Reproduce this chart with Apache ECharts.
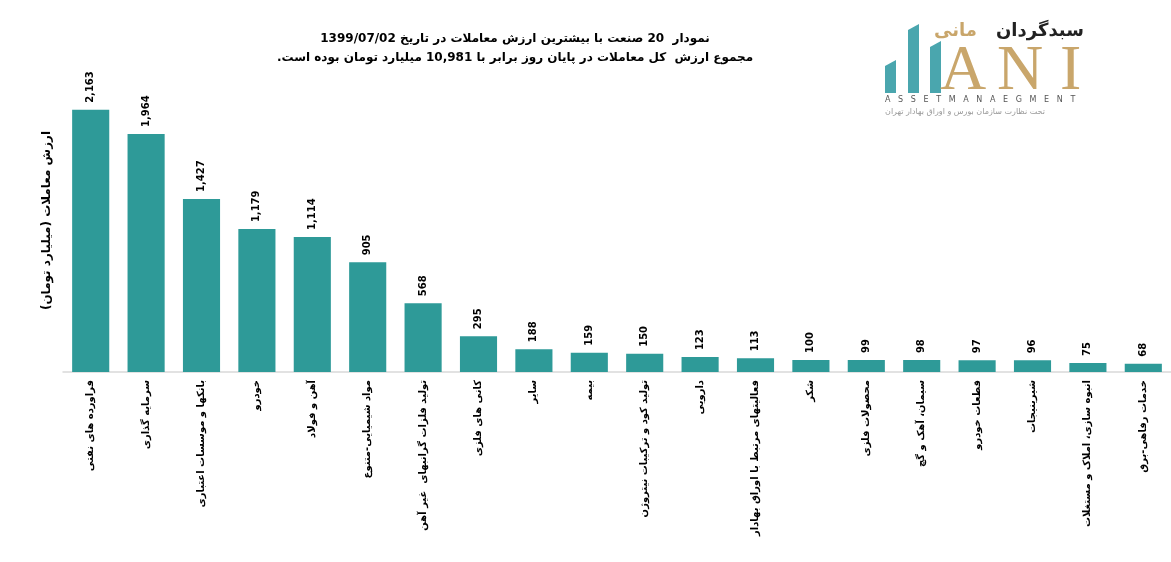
<!DOCTYPE html>
<html>
<head>
<meta charset="utf-8">
<script src="https://cdn.jsdelivr.net/npm/echarts@6/dist/echarts.min.js"></script>
<style>
  html, body { margin: 0; padding: 0; background: #fff; }
  #main { width: 1171px; height: 562px; }
</style>
</head>
<body>
<div id="main" dir="rtl"></div>
<script type="text/javascript">
// صنایع و ارزش معاملات (میلیارد تومان)
var categories = [
    'فراورده های نفتی', 'سرمایه گذاری', 'بانکها و موسسات اعتباری', 'خودرو',
    'آهن و فولاد', 'مواد شیمیایی-متنوع', 'تولید فلزات گرانبهای  غیر آهن', 'کانی های فلزی',
    'سایر', 'بیمه', 'تولید کود و ترکیبات نیتروژن', 'دارویی',
    'فعالیتهای مرتبط با اوراق بهادار', 'شکر', 'محصولات فلزی', 'سیمان، آهک و گچ',
    'قطعات خودرو', 'شیرینیجات', 'انبوه سازی، املاک و مستغلات', 'خدمات رفاهی-برق'
];
var values = [2163, 1964, 1427, 1179, 1114, 905, 568, 295, 188, 159,
              150, 123, 113, 100, 99, 98, 97, 96, 75, 68];
var titleLines = [
    'نمودار  20 صنعت با بیشترین ارزش معاملات در تاریخ 1399/07/02',
    'مجموع ارزش  کل معاملات در پایان روز برابر با 10,981 میلیارد تومان بوده است.'
];
var yName = 'ارزش معاملات (میلیارد تومان)';

var fontFam = 'DejaVu Sans, sans-serif';
var teal = '#2e9a98';
var gold = '#c9a66b';

var myChart = echarts.init(document.getElementById('main'));

var option = {
    animation: false,
    title: {
        text: titleLines.join('\n'),
        left: 510,
        top: 24,
        textAlign: 'center',
        textStyle: {
            fontFamily: fontFam,
            fontSize: 12,
            fontWeight: 'bold',
            lineHeight: 19,
            color: '#000'
        }
    },
    grid: {
        left: 63,
        right: 0,
        top: 69,
        bottom: 190
    },
    xAxis: {
        type: 'category',
        data: categories,
        axisLine: { lineStyle: { color: '#d9d9d9', width: 1.5 } },
        axisTick: { show: false },
        axisLabel: {
            interval: 0,
            rotate: 90,
            margin: 8,
            fontFamily: fontFam,
            fontSize: 10,
            fontWeight: 'bold',
            color: '#000'
        }
    },
    yAxis: {
        type: 'value',
        min: 0,
        max: 2500,
        name: yName,
        nameLocation: 'middle',
        nameRotate: 90,
        nameGap: 10,
        nameTextStyle: {
            fontFamily: fontFam,
            fontSize: 12,
            fontWeight: 'bold',
            color: '#000'
        },
        axisLine: { show: false },
        axisTick: { show: false },
        axisLabel: { show: false },
        splitLine: { show: false }
    },
    series: [{
        type: 'bar',
        data: values,
        barCategoryGap: '33%',
        itemStyle: { color: teal },
        label: {
            show: true,
            position: 'top',
            rotate: 90,
            align: 'left',
            verticalAlign: 'middle',
            distance: 7,
            fontFamily: fontFam,
            fontSize: 10,
            fontWeight: 'bold',
            color: '#000',
            formatter: function (p) {
                return p.value.toLocaleString('en-US');
            }
        }
    }],
    // لوگوی سبدگردان مانی
    graphic: [
        { type: 'polygon', shape: { points: [[885, 66], [896, 60], [896, 93], [885, 93]] }, style: { fill: '#4aa6ae' } },
        { type: 'polygon', shape: { points: [[908, 30], [919, 24], [919, 93], [908, 93]] }, style: { fill: '#4aa6ae' } },
        { type: 'polygon', shape: { points: [[930, 47], [941, 41], [941, 93], [930, 93]] }, style: { fill: '#4aa6ae' } },
        { type: 'text', left: 940, top: 40, style: { text: 'A', font: '64px Liberation Serif, serif', fill: gold } },
        { type: 'text', left: 997, top: 40, style: { text: 'N', font: '64px Liberation Serif, serif', fill: gold } },
        { type: 'text', left: 1060, top: 40, style: { text: 'I', font: '64px Liberation Serif, serif', fill: gold } },
        { type: 'text', left: 996, top: 22, style: { text: 'سبدگردان', font: 'bold 18px DejaVu Sans, sans-serif', fill: '#222' } },
        { type: 'text', left: 934, top: 22, style: { text: 'مانی', font: 'bold 18px DejaVu Sans, sans-serif', fill: gold } },
        { type: 'text', left: 885, top: 96, style: { text: 'A   S   S   E   T   M   A   N   A   E   G   M   E   N   T', font: '8px DejaVu Sans, sans-serif', fill: '#555' } },
        { type: 'text', left: 885, top: 108, style: { text: 'تحت نظارت سازمان بورس و اوراق بهادار تهران', font: '8px DejaVu Sans, sans-serif', fill: '#999' } }
    ]
};

myChart.setOption(option);
</script>
</body>
</html>
